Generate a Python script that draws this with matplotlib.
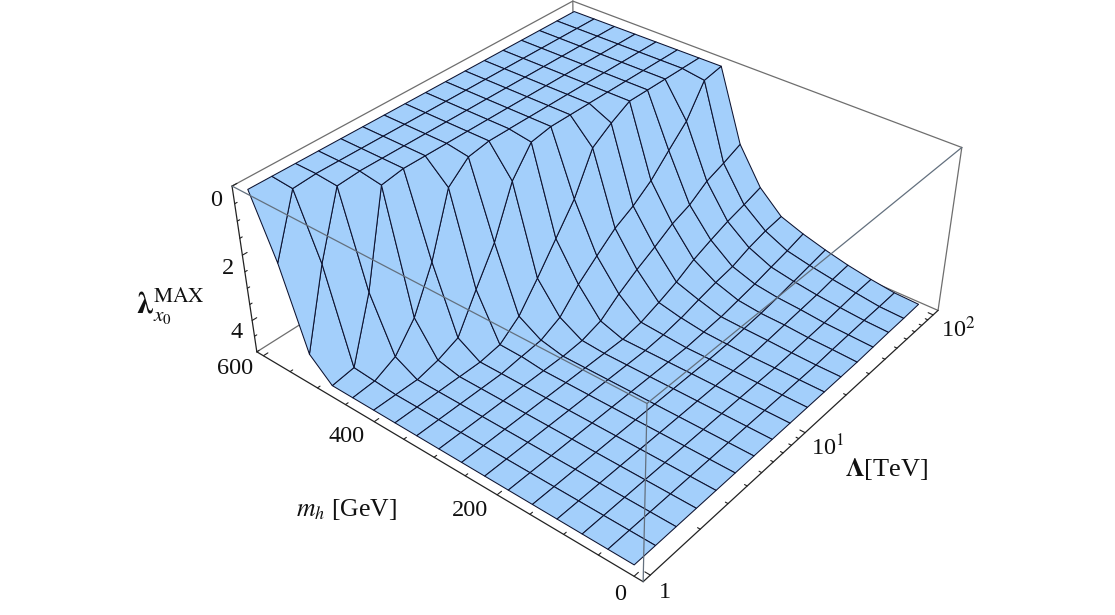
import numpy as np
import matplotlib
matplotlib.use("Agg")
import matplotlib.pyplot as plt
from matplotlib.collections import PolyCollection

plt.rcParams['font.family'] = ['Liberation Serif', 'DejaVu Serif']
plt.rcParams['mathtext.fontset'] = 'stix'

# mesh nodes
mh_nodes = [600, 562.5, 525, 487.5, 450, 412.5, 375, 337.5, 300, 262.5, 225, 187.5, 150, 112.5, 75, 37.5, 0]
logL_nodes = [0, .125, .25, .375, .5, .625, .75, .875, 1, 1.125, 1.25, 1.375, 1.5, 1.625, 1.75, 1.875, 2]

# lambda values, one row per m_h node, one column per log10(Lambda) node
lam_600 = [0, 0, 0, 0, 0, 0, 0, 0, 0, 0, 0, 0, 0, 0, 0, 0, 0]
lam_562 = [1.75, .05, 0, 0, 0, 0, 0, 0, 0, 0, 0, 0, 0, 0, 0, 0, 0]
lam_525 = [4.1, 1.85, .05, 0, 0, 0, 0, 0, 0, 0, 0, 0, 0, 0, 0, 0, 0]
lam_487 = [4.7, 4.6, 2.75, .1, 0, 0, 0, 0, 0, 0, 0, 0, 0, 0, 0, 0, 0]
lam_450 = [4.7, 4.65, 4.35, 3.6, 2.35, .6, .1, 0, 0, 0, 0, 0, 0, 0, 0, 0, 0]
lam_412 = [4.7, 4.7, 4.7, 4.55, 4.3, 3.25, 2.25, .85, .1, 0, 0, 0, 0, 0, 0, 0, 0]
lam_375 = [4.7, 4.7, 4.7, 4.7, 4.7, 4.6, 4.15, 3.4, 2.6, 1.8, .67, .3, 0, 0, 0, 0, 0]
lam_337 = [4.7, 4.7, 4.7, 4.7, 4.7, 4.62, 4.55, 4.27, 3.67, 3.2, 2.75, 2.45, 2.05, 1.5, .97, .1, 0]
lam_300 = [4.7, 4.7, 4.7, 4.7, 4.7, 4.7, 4.7, 4.65, 4.47, 4.05, 3.7, 3.4, 3.07, 2.86, 2.5, 2.3, 2.07]
lam_262 = [4.7, 4.7, 4.7, 4.7, 4.7, 4.7, 4.7, 4.7, 4.7, 4.6, 4.4, 4.17, 3.87, 3.65, 3.45, 3.3, 3.13]
lam_225 = [4.7, 4.7, 4.7, 4.7, 4.7, 4.7, 4.7, 4.7, 4.7, 4.65, 4.55, 4.4, 4.27, 4.17, 3.97, 3.83, 3.75]
lam_187 = [4.7, 4.7, 4.7, 4.7, 4.7, 4.7, 4.7, 4.7, 4.7, 4.7, 4.65, 4.6, 4.5, 4.4, 4.27, 4.15, 4.0]
lam_150 = [4.7, 4.7, 4.7, 4.7, 4.7, 4.7, 4.7, 4.7, 4.7, 4.7, 4.68, 4.63, 4.58, 4.5, 4.4, 4.3, 4.2]
lam_112 = [4.7, 4.7, 4.7, 4.7, 4.7, 4.7, 4.7, 4.7, 4.7, 4.7, 4.7, 4.65, 4.6, 4.55, 4.5, 4.42, 4.37]
lam_075 = [4.7, 4.7, 4.7, 4.7, 4.7, 4.7, 4.7, 4.7, 4.7, 4.7, 4.7, 4.68, 4.65, 4.62, 4.57, 4.52, 4.5]
lam_037 = [4.7, 4.7, 4.7, 4.7, 4.7, 4.7, 4.7, 4.7, 4.7, 4.7, 4.7, 4.7, 4.67, 4.65, 4.63, 4.62, 4.6]
lam_000 = [4.7, 4.7, 4.7, 4.7, 4.7, 4.7, 4.7, 4.7, 4.7, 4.7, 4.7, 4.7, 4.7, 4.68, 4.66, 4.65, 4.63]
lam_rows = [lam_600, lam_562, lam_525, lam_487, lam_450, lam_412, lam_375, lam_337, lam_300,
            lam_262, lam_225, lam_187, lam_150, lam_112, lam_075, lam_037, lam_000]

mh_minor = list(range(0, 601, 50))
mh_major = [0, 200, 400, 600]
lam_ticks = [0, .5, 1, 1.5, 2, 2.5, 3, 3.5, 4, 4.5, 5]
L_ticks = [1, 2, 3, 4, 5, 6, 7, 8, 9, 10, 20, 30, 40, 50, 60, 70, 80, 90, 100]


def calibrate(pairs):
    """3x4 camera from (x, y, z) -> picture position pairs."""
    A, b = [], []
    for (u, v, w), (px, py) in pairs:
        A.append([u, v, w, 1, 0, 0, 0, 0, -px*u, -px*v, -px*w])
        A.append([0, 0, 0, 0, u, v, w, 1, -py*u, -py*v, -py*w])
        b += [px, py]
    A = np.array(A, float)
    scale = np.abs(A).max(axis=0)
    scale[scale == 0] = 1
    p = np.linalg.lstsq(A/scale, np.array(b, float), rcond=None)[0]/scale
    return np.append(p, 1.0).reshape(3, 4)


def proj(Pm, q):
    q = np.asarray(q, float)
    h = q @ Pm[:, :3].T + Pm[:, 3]
    return h[..., :2]/h[..., 2:3]


# box camera: box corners (u: mh side, v: Lambda side, w: depth)
P_box = calibrate([((0, 0, 0), (232, 186)), ((0, 0, 1), (257, 352)), ((1, 0, 1), (643, 582)),
                   ((1, 1, 1), (938, 310)), ((1, 1, 0), (962, 148)), ((1, 0, 0), (647, 403)),
                   ((0, 1, 0), (572.7, 1))])
# surface camera: recognisable mesh nodes (mh/600, log10 Lambda/2, lambda/5)
P_srf = calibrate([((1, 0, 0), (248, 185)), ((1, 1, 0), (575, 10)), ((1, .5, 0), (425, 95)), ((1, .25, 0), (340, 140)),
                   ((1, .75, 0), (503, 53)), ((.5625, 1, 0), (722, 66)), ((.75, 1, 0), (657, 42)),
                   ((.625, 1, 0), (699, 58)), ((.875, 1, 0), (613, 26)),
                   ((0, 0, .94), (633, 565)), ((0, 1, .926), (918, 302)), ((0, .5, .94), (788, 424)),
                   ((0, .25, .94), (717, 491)), ((0, .75, .94), (858, 363)),
                   ((.8125, 0, .94), (332, 385)), ((.375, 0, .94), (486, 477)), ((.1875, 0, .94), (558, 519))])
cam = np.linalg.svd(P_srf)[2][-1]
cam = cam[:3]/cam[3]
U0, U1 = 0.02, 0.98
V0, V1 = 0.02, 0.98

fig = plt.figure(figsize=(11.15, 6.15), dpi=100)
ax = fig.add_axes([0, 0, 1, 1])
ax.set_xlim(0, 1115)
ax.set_ylim(615, 0)
ax.axis('off')

GREY = '#6e6e6e'
DARK = '#222222'


def edge(a, b, color=GREY, lw=0.9, z=1):
    pa, pb = proj(P_box, np.array([a, b], float))
    ax.plot([pa[0], pb[0]], [pa[1], pb[1]], color=color, lw=lw, zorder=z, solid_capstyle='round')


# rear box edges, behind the surface
for a, b_ in [((0, 1, 0), (0, 1, 1)), ((0, 0, 1), (0, 1, 1)), ((1, 1, 1), (0, 1, 1)),
              ((0, 0, 0), (0, 1, 0)), ((0, 1, 0), (1, 1, 0)), ((1, 1, 0), (1, 1, 1))]:
    edge(a, b_, z=1)
# axis edges
for a, b_ in [((0, 0, 0), (0, 0, 1)), ((0, 0, 1), (1, 0, 1)), ((1, 0, 1), (1, 1, 1))]:
    edge(a, b_, color=DARK, lw=0.9, z=1)

# surface
Z = np.array(lam_rows, float)
M = np.array(mh_nodes)[:, None]*np.ones(Z.shape[1])/600
L = np.ones(Z.shape[0])[:, None]*np.array(logL_nodes)/2
B = np.stack([M, L, Z/5], -1)
S = proj(P_srf, B)
polys = []
depth = []
for i in range(Z.shape[0]-1):
    for j in range(Z.shape[1]-1):
        polys.append([S[i, j], S[i+1, j], S[i+1, j+1], S[i, j+1]])
        c = (B[i, j]+B[i+1, j]+B[i+1, j+1]+B[i, j+1])/4
        depth.append(np.linalg.norm(c-cam))
order = np.argsort(depth)[::-1]
pc = PolyCollection([polys[k] for k in order], facecolors='#a3cffb', edgecolors='#0c1230',
                    linewidths=0.75, zorder=2)
ax.add_collection(pc)

# front box edges, over the surface
for a, b_ in [((0, 0, 0), (1, 0, 0)), ((1, 0, 0), (1, 1, 0)), ((1, 0, 0), (1, 0, 1))]:
    edge(a, b_, z=3, color='#63707e', lw=0.9)

# ticks
for m in mh_minor:
    u = U0 + (600-m)/600*(U1-U0)
    ln = 0.012 if m in mh_major else 0.007
    edge((u, 0, 1), (u, ln, 1), color=DARK, lw=0.8, z=1)
for t in L_ticks:
    v = V0 + np.log10(t)/2*(V1-V0)
    ln = 0.012 if t in (1, 10, 100) else 0.006
    edge((1, v, 1), (1-ln, v, 1), color=DARK, lw=0.8, z=1)
for t in lam_ticks:
    w = t/5
    ln = 0.012 if t == int(t) and int(t) % 2 == 0 else 0.006
    edge((0, 0, w), (0, ln, w), color=DARK, lw=0.8, z=1)

kw = dict(ha='center', va='center', fontsize=17.5, color='#111111')
for s, x, y in [('0', 216, 200), ('2', 228, 268), ('4', 237, 332), ('600', 235, 368), ('400', 347, 437),
                ('200', 470, 511), ('0', 620, 595), ('1', 665, 592)]:
    ax.text(x, y, s, **kw)
ax.text(828, 448, r'10$^{1}$', **kw)
ax.text(958, 329, r'10$^{2}$', **kw)
ax.text(887, 469, r'$\mathbf{\Lambda}$[TeV]', ha='center', va='center', fontsize=19, color='#111111')
ax.text(347, 510, r'$m_h$ [GeV]', ha='center', va='center', fontsize=18.5, color='#111111')
ax.text(170, 306, r'$\mathbf{\lambda}_{x_0}^{\mathrm{MAX}}$', ha='center', va='center', fontsize=22, color='#111111')

fig.savefig('out.png', dpi=100, facecolor='white')
